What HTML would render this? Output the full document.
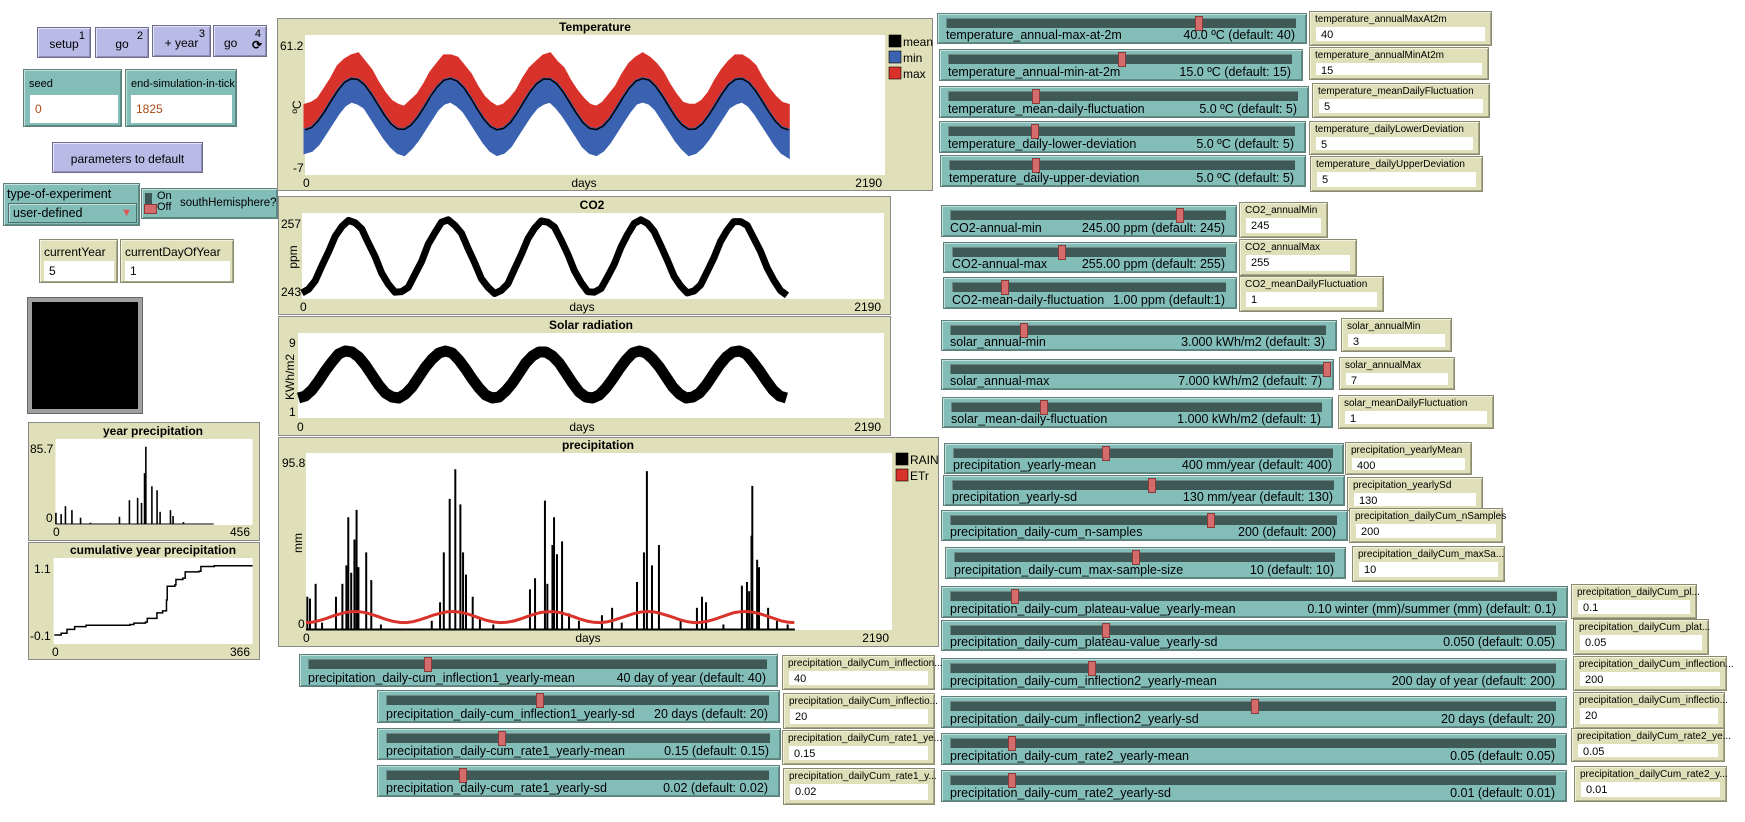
<!DOCTYPE html>
<html><head><meta charset="utf-8">
<style>
body{margin:0;width:1745px;height:822px;background:#fff;overflow:hidden;position:relative;font-family:"Liberation Sans",sans-serif;font-size:12px;color:#000}
.w{position:absolute;box-sizing:border-box}
.btn{background:#babae6;border:1px solid #6e6e8a;box-shadow:inset 1px 1px 0 #e4e4f8,inset -1px -1px 0 #8d8db5;text-align:center}
.btn .num{position:absolute;right:5px;top:2px;font-size:11px}
.btn .lb{position:absolute;left:0;right:0;bottom:6px;font-size:12px}
.teal{background:#83bdb8;border:1px solid #5f7f7b;box-shadow:inset 1px 1px 0 #c4e0dc,inset -1px -1px 0 #5d8c87}
.beige{background:#dfdfb9;border:1px solid #8a8a70;box-shadow:inset 1px 1px 0 #f2f2dc,inset -1px -1px 0 #a8a888}
.fld{position:absolute;background:#fff;font-size:12px;padding-left:5px;box-sizing:border-box}
.slider .trk{position:absolute;left:8px;right:10px;top:4px;height:10px;background:#3f5a56;border-top:1px solid #6f8784;border-left:1px solid #6f8784;box-sizing:border-box}
.slider .th{position:absolute;top:2px;width:8px;height:15px;background:#d56c6c;border:1px solid #8b3b3b;box-sizing:border-box}
.slider .sl{position:absolute;left:8px;bottom:1px;font-size:12.5px;white-space:nowrap}
.slider .sv{position:absolute;right:11px;bottom:1px;font-size:12.5px;white-space:nowrap}
.inb .il{position:absolute;left:5px;top:2px;font-size:10px;white-space:nowrap}
.inb .fld{left:6px;right:6px;top:15px;bottom:4px;font-size:11px;line-height:16px}
svg text{font-family:"Liberation Sans",sans-serif}
</style></head><body>

<div class="w btn" style="left:37px;top:27px;width:54px;height:31px"><span class="num">1</span><span class="lb">setup</span></div>
<div class="w btn" style="left:95px;top:27px;width:54px;height:31px"><span class="num">2</span><span class="lb">go</span></div>
<div class="w btn" style="left:152px;top:25px;width:59px;height:32px"><span class="num">3</span><span class="lb">+ year</span></div>
<div class="w btn" style="left:213px;top:25px;width:54px;height:32px"><span class="num">4</span><span class="lb" style="text-align:left;padding-left:10px">go <b style="position:absolute;right:4px;bottom:-2px;font-size:12px">&#x27F3;</b></span></div>

<div class="w teal" style="left:23px;top:69px;width:99px;height:58px"><span style="position:absolute;left:5px;top:8px;font-size:11px">seed</span><div class="fld" style="left:6px;top:25px;width:88px;height:28px;line-height:28px;color:#a84a16">0</div></div>
<div class="w teal" style="left:125px;top:69px;width:112px;height:58px"><span style="position:absolute;left:5px;top:8px;font-size:11px">end-simulation-in-tick</span><div class="fld" style="left:5px;top:25px;width:101px;height:28px;line-height:28px;color:#a84a16">1825</div></div>

<div class="w btn" style="left:52px;top:142px;width:151px;height:31px"><span class="lb">parameters to default</span></div>

<div class="w teal" style="left:3px;top:183px;width:137px;height:43px"><span style="position:absolute;left:3px;top:3px;font-size:12.5px">type-of-experiment</span><div style="position:absolute;left:4px;top:19px;width:129px;height:20px;border:1px solid #4f6f6b;box-shadow:inset 1px 1px 0 #c4e0dc;box-sizing:border-box;font-size:12.5px;line-height:18px;padding-left:4px">user-defined<span style="position:absolute;right:4px;top:0;color:#d55;font-size:11px">&#9660;</span></div></div>

<div class="w teal" style="left:141px;top:188px;width:137px;height:31px"><div style="position:absolute;left:3px;top:4px;width:7px;height:14px;background:#3f5a56"></div><div style="position:absolute;left:2px;top:15px;width:11px;height:8px;background:#d56c6c;border:1px solid #8b3b3b"></div><span style="position:absolute;left:15px;top:2px;font-size:11px;line-height:11px">On<br>Off</span><span style="position:absolute;left:38px;top:8px;font-size:11.5px;white-space:nowrap">southHemisphere?</span></div>

<div class="w beige" style="left:39px;top:239px;width:79px;height:44px"><span style="position:absolute;left:4px;top:5px">currentYear</span><div class="fld" style="left:4px;top:21px;width:70px;height:20px;line-height:20px">5</div></div>
<div class="w beige" style="left:120px;top:239px;width:114px;height:44px"><span style="position:absolute;left:4px;top:5px">currentDayOfYear</span><div class="fld" style="left:4px;top:21px;width:105px;height:20px;line-height:20px">1</div></div>

<div class="w" style="left:28px;top:298px;width:114px;height:115px;background:#000;border:4px solid #a0a0a0;box-shadow:0 0 0 1px #666"></div>

<svg id="charts" width="1745" height="822" style="position:absolute;left:0;top:0"></svg>

<script>
// ---------- data ----------
const tempStep = 25;
const tempMean = [15,16.1,19.4,24.1,29.4,34.3,38.2,39.9,39.5,36.9,32.5,27.3,22.1,17.8,15.4,15.2,17.2,21.1,26.1,31.5,36.0,39.2,40.0,38.7,35.4,30.6,25.2,20.2,16.6,15.0,15.7,18.5,23.0,28.3,33.5,37.5,39.7,39.7,37.5,33.4,28.2,22.9,18.4,15.7,15.1,16.7,20.3,25.3,30.6,35.4,38.8,40.0,39.2,36.0,31.4,26.1,21.0,17.2,15.2,15.4,17.9,22.2,27.3,32.6,37.0,39.5,39.9,38.1,34.2,29.3,24.0,19.3,16.1,15.0];
const tempMax = [27,28,30,35,40,46,49,51,52,48,44,38,33,29,27,26,29,32,37,43,47,51,51,50,46,42,36,31,28,26,27,30,34,40,45,48,51,52,48,45,39,34,30,27,26,28,32,36,42,47,50,52,50,47,43,37,32,28,27,27,29,33,39,44,48,51,51,49,46,40,35,31,28,27];
const tempMin = [4,5,8,13,18,23,27,29,28,26,21,16,11,7,4,3,6,10,15,20,25,28,29,27,24,19,14,9,5,3,4,7,12,17,22,26,28,29,26,22,17,12,7,4,3,5,9,14,19,24,28,29,28,25,20,15,10,6,3,4,7,11,16,21,26,28,29,27,23,18,13,8,4,2];
const co2Vals = [244.0,244.6,246.0,248.4,250.7,253.2,254.8,255.8,255.4,254.4,252.1,249.9,247.2,245.4,244.1,244.2,244.9,247.0,249.1,251.9,253.8,255.5,255.9,255.0,253.7,251.2,248.9,246.3,244.9,243.9,244.4,245.5,247.9,250.2,252.8,254.5,255.7,255.5,254.7,252.6,250.3,247.6,245.7,244.2,244.1,244.7,246.6,248.7,251.4,253.5,255.3,255.9,255.3,254.0,251.7,249.3,246.7,245.1,244.0,244.3,245.3,247.5,249.7,252.4,254.2,255.6,255.6,255.0,252.9,250.8,248.1,246.1,244.4,243.6];
const solarVals = [2.8,3.0,3.6,4.5,5.5,6.4,7.2,7.5,7.4,6.9,6.1,5.1,4.1,3.3,2.9,2.8,3.2,3.9,4.9,5.9,6.7,7.3,7.5,7.3,6.6,5.7,4.7,3.8,3.1,2.8,2.9,3.5,4.3,5.3,6.3,7.0,7.4,7.4,7.0,6.3,5.3,4.3,3.4,2.9,2.8,3.1,3.8,4.7,5.7,6.6,7.3,7.5,7.3,6.7,5.9,4.9,3.9,3.2,2.8,2.9,3.3,4.1,5.1,6.1,6.9,7.4,7.5,7.2,6.4,5.5,4.5,3.6,3.0,2.8];
const etrVals = [4.0,4.3,5.1,6.2,7.5,8.6,9.6,10.0,9.9,9.3,8.2,7.0,5.7,4.7,4.1,4.0,4.5,5.5,6.7,8.0,9.0,9.8,10.0,9.7,8.9,7.7,6.4,5.2,4.4,4.0,4.2,4.8,5.9,7.2,8.4,9.4,9.9,9.9,9.4,8.4,7.2,5.9,4.8,4.2,4.0,4.4,5.3,6.5,7.7,8.9,9.7,10.0,9.8,9.0,7.9,6.7,5.4,4.5,4.0,4.1,4.7,5.7,7.0,8.2,9.4,9.9,10.0,9.5,8.6,7.4,6.2,5.0,4.3,4.0];
const rainDays = [5,15,36,60,112,136,151,158,169,181,189,196,225,244,280,470,501,515,537,558,577,587,598,623,650,700,837,856,893,902,921,927,938,957,983,1020,1106,1144,1180,1237,1263,1274,1293,1319,1400,1461,1480,1495,1560,1629,1648,1656,1665,1668,1686,1693,1727,1760,1800];
const rainVals = [18,17,25,4,18,25,35,61,31,49,65,34,42,27,3,5,15,42,71,87,68,42,30,18,6,3,22,28,70,25,46,61,41,48,9,5,8,12,4,26,42,86,35,46,6,12,18,15,3,24,26,21,51,78,38,34,12,5,3];
const rainEnd = 1827;
const yearPrecipDays = [1,13,23,38,58,81,148,171,190,199,206,209,223,235,242,266,272,296];
const yearPrecipVals = [12.4,11,19.8,15.4,7,1.4,8,26.4,29,23.4,56.4,85.7,41.8,37.4,13.5,15.4,8.8,2.2];
const yearPrecipEnd = 366;
const cumDays = [1.4,14,24.6,38.7,59.7,140.6,147.7,168.9,172.3,190,200.5,207.6,209,223,225,237.8,242,267.4,270.9,295.5,366];
const cumVals = [0.017,0.042,0.1,0.14,0.16,0.17,0.19,0.205,0.26,0.34,0.37,0.53,0.73,0.75,0.83,0.85,0.94,0.95,1.02,1.03,1.03];

// ---------- helpers ----------
const NS = 'http://www.w3.org/2000/svg';
const svg = document.getElementById('charts');
function lin(d0, d1, r0, r1) { return v => r0 + (v - d0) / (d1 - d0) * (r1 - r0); }
function S(tag, attrs, parent) {
  const e = document.createElementNS(NS, tag);
  for (const k in attrs) e.setAttribute(k, attrs[k]);
  (parent || svg).appendChild(e);
  return e;
}
function T(txt, x, y, opts, name) {
  const e = S('text', Object.assign({x: x, y: y, 'font-size': 12}, opts || {}));
  e.textContent = txt;
  
  
  return e;
}
function frame(x1, y1, x2, y2, name) {
  const r = S('rect', {x: x1 + .5, y: y1 + .5, width: x2 - x1, height: y2 - y1, fill: '#dfdfb9', stroke: '#8a8a8a'});
  
  
}
function area(x1, y1, x2, y2, name) {
  const r = S('rect', {x: x1, y: y1, width: x2 - x1, height: y2 - y1, fill: '#fff'});
  
  
}
function pts(xs, ys, fx, fy) { return xs.map((d, i) => fx(d).toFixed(1) + ',' + fy(ys[i]).toFixed(1)); }
const tDays = tempMean.map((v, i) => i * tempStep);

// ---------- Temperature ----------
frame(277, 18, 932, 190, 'temperature-plot');
area(305, 35, 885, 175, 'temperature-plot-area');
const tx = lin(0, 2190, 305, 885), ty = lin(-7, 61.2, 175, 35);
const redPts = pts(tDays, tempMax, tx, ty).concat(pts(tDays, tempMean, tx, ty).reverse());
const red = S('polygon', {points: redPts.join(' '), fill: '#d9322b', stroke: '#d9322b', 'stroke-width': 3});


const bluePts = pts(tDays, tempMean, tx, ty).concat(pts(tDays, tempMin, tx, ty).reverse());
const blue = S('polygon', {points: bluePts.join(' '), fill: '#3a62b0', stroke: '#3a62b0', 'stroke-width': 3});


const meanL = S('polyline', {points: pts(tDays, tempMean, tx, ty).join(' '), fill: 'none', stroke: '#000', 'stroke-width': 1.5});


T('Temperature', 595, 31, {'font-weight': 'bold', 'text-anchor': 'middle'}, 'temperature-title');
T('61.2', 280, 50, {}, 'temperature-y-max');
T('-7', 293, 172, {}, 'temperature-y-min');
T('ºC', 301, 107, {'text-anchor': 'middle', transform: 'rotate(-90 301 107)'}, 'temperature-y-title');
T('0', 303, 187, {}, 'temperature-x-min');
T('days', 584, 187, {'text-anchor': 'middle'}, 'temperature-x-title');
T('2190', 882, 187, {'text-anchor': 'end'}, 'temperature-x-max');
[['mean', '#000', 35], ['min', '#3a62b0', 51], ['max', '#d9322b', 67]].forEach(l => {
  const r = S('rect', {x: 889, y: l[2], width: 12, height: 12, fill: l[1], stroke: '#000', 'stroke-width': .6});
  
  
  T(l[0], 903, l[2] + 11, {}, 'legend-entry-' + l[0]);
});

// ---------- CO2 ----------
frame(278, 196, 890, 314, 'co2-plot');
area(302, 213, 884, 299, 'co2-plot-area');
const cx = lin(0, 2190, 302, 884), cy = lin(243, 257, 299, 213);
const co2L = S('polyline', {points: pts(tDays, co2Vals, cx, cy).join(' '), fill: 'none', stroke: '#000', 'stroke-width': 7, 'stroke-linejoin': 'round'});


T('CO2', 592, 209, {'font-weight': 'bold', 'text-anchor': 'middle'}, 'co2-title');
T('257', 281, 228, {}, 'co2-y-max');
T('243', 281, 296, {}, 'co2-y-min');
T('ppm', 297, 257, {'text-anchor': 'middle', transform: 'rotate(-90 297 257)'}, 'co2-y-title');
T('0', 300, 311, {}, 'co2-x-min');
T('days', 582, 311, {'text-anchor': 'middle'}, 'co2-x-title');
T('2190', 881, 311, {'text-anchor': 'end'}, 'co2-x-max');

// ---------- Solar ----------
frame(278, 316, 890, 435, 'solar-plot');
area(298, 333, 884, 418, 'solar-plot-area');
const sx = lin(0, 2190, 298.5, 884), sy = lin(1, 9, 416, 336);
const solL = S('polyline', {points: pts(tDays, solarVals, sx, sy).join(' '), fill: 'none', stroke: '#000', 'stroke-width': 11, 'stroke-linejoin': 'round'});


T('Solar radiation', 591, 329, {'font-weight': 'bold', 'text-anchor': 'middle'}, 'solar-title');
T('9', 289, 347, {}, 'solar-y-max');
T('1', 289, 416, {}, 'solar-y-min');
T('KWh/m2', 294, 377, {'text-anchor': 'middle', transform: 'rotate(-90 294 377)'}, 'solar-y-title');
T('0', 297, 431, {}, 'solar-x-min');
T('days', 582, 431, {'text-anchor': 'middle'}, 'solar-x-title');
T('2190', 881, 431, {'text-anchor': 'end'}, 'solar-x-max');

// ---------- Precipitation ----------
frame(278, 437, 938, 646, 'precipitation-plot');
area(306, 453, 892, 630, 'precipitation-plot-area');
const px = lin(0, 2190, 306, 892), py = lin(0, 95.8, 630, 453);
rainDays.forEach((d, i) => {
  const b = S('line', {x1: px(d), x2: px(d), y1: py(0), y2: py(rainVals[i]), stroke: '#000', 'stroke-width': 2});
  
  
});
const base = S('line', {x1: px(0), x2: px(rainEnd), y1: py(0) - .5, y2: py(0) - .5, stroke: '#000', 'stroke-width': 2});


const etrL = S('polyline', {points: pts(tDays, etrVals, px, py).join(' '), fill: 'none', stroke: '#d9322b', 'stroke-width': 3});


T('precipitation', 598, 449, {'font-weight': 'bold', 'text-anchor': 'middle'}, 'precipitation-title');
T('95.8', 282, 467, {}, 'precipitation-y-max');
T('0', 298, 628, {}, 'precipitation-y-min');
T('mm', 302, 543, {'text-anchor': 'middle', transform: 'rotate(-90 302 543)'}, 'precipitation-y-title');
T('0', 303, 642, {}, 'precipitation-x-min');
T('days', 588, 642, {'text-anchor': 'middle'}, 'precipitation-x-title');
T('2190', 889, 642, {'text-anchor': 'end'}, 'precipitation-x-max');
[['RAIN', '#000', 453], ['ETr', '#d9322b', 469]].forEach(l => {
  const r = S('rect', {x: 896, y: l[2], width: 12, height: 12, fill: l[1], stroke: '#000', 'stroke-width': .6});
  
  
  T(l[0], 910, l[2] + 11, {}, 'legend-entry-' + l[0].toLowerCase());
});

// ---------- Year precipitation ----------
frame(28, 422, 259, 540, 'year-precipitation-plot');
area(55.5, 439, 252.6, 525, 'year-precipitation-plot-area');
const yx = lin(0, 456, 55.5, 252.6), yy = lin(0, 85.7, 524, 446.7);
yearPrecipDays.forEach((d, i) => {
  const b = S('line', {x1: yx(d), x2: yx(d), y1: yy(0), y2: yy(yearPrecipVals[i]), stroke: '#000', 'stroke-width': 1.6});
  
  
});
const yb = S('line', {x1: yx(0), x2: yx(yearPrecipEnd), y1: yy(0), y2: yy(0), stroke: '#000', 'stroke-width': 1});


T('year precipitation', 153, 435, {'font-weight': 'bold', 'text-anchor': 'middle'}, 'year-precipitation-title');
T('85.7', 30, 453, {}, 'year-precip-y-max');
T('0', 46, 522, {}, 'year-precip-y-min');
T('0', 53, 536, {}, 'year-precip-x-min');
T('456', 250, 536, {'text-anchor': 'end'}, 'year-precip-x-max');

// ---------- Cumulative ----------
frame(28, 542, 259, 659, 'cumulative-precipitation-plot');
area(53.6, 558, 252.6, 644, 'cumulative-plot-area');
const qx = lin(0, 366, 53.6, 252.6), qy = lin(-0.1, 1.1, 643, 561);
let dstr = 'M' + qx(cumDays[0]) + ',' + qy(cumVals[0]);
cumDays.forEach((d, i) => { if (i > 0) dstr += ' H' + qx(d) + ' V' + qy(cumVals[i]); });
const cl = S('path', {d: dstr, fill: 'none', stroke: '#000', 'stroke-width': 1.5});


T('cumulative year precipitation', 153, 554, {'font-weight': 'bold', 'text-anchor': 'middle'}, 'cumulative-title');
T('1.1', 34, 573, {}, 'cumulative-y-max');
T('-0.1', 30, 640, {}, 'cumulative-y-min');
T('0', 52, 656, {}, 'cumulative-x-min');
T('366', 250, 656, {'text-anchor': 'end'}, 'cumulative-x-max');

// ---------- sliders ----------
const sliders = [
 [937,13,1307,44,1198,'temperature_annual-max-at-2m','40.0 ºC  (default: 40)'],
 [939,49,1303,81,1121,'temperature_annual-min-at-2m','15.0 ºC  (default: 15)'],
 [939,86,1309,118,1035,'temperature_mean-daily-fluctuation','5.0 ºC  (default: 5)'],
 [939,121,1306,153,1034,'temperature_daily-lower-deviation','5.0 ºC  (default: 5)'],
 [940,155,1306,187,1035,'temperature_daily-upper-deviation','5.0 ºC  (default: 5)'],
 [941,205,1237,237,1179,'CO2-annual-min','245.00 ppm (default: 245)'],
 [943,242,1237,273,1061,'CO2-annual-max','255.00 ppm (default: 255)'],
 [943,277,1237,309,1004,'CO2-mean-daily-fluctuation','1.00 ppm (default:1)'],
 [941,320,1337,351,1023,'solar_annual-min','3.000 kWh/m2 (default: 3)'],
 [941,359,1334,390,1326,'solar_annual-max','7.000 kWh/m2 (default: 7)'],
 [942,397,1333,428,1043,'solar_mean-daily-fluctuation','1.000 kWh/m2 (default: 1)'],
 [944,443,1344,474,1105,'precipitation_yearly-mean','400 mm/year (default: 400)'],
 [943,475,1345,506,1151,'precipitation_yearly-sd','130 mm/year (default: 130)'],
 [941,510,1348,541,1210,'precipitation_daily-cum_n-samples','200 (default: 200)'],
 [945,547,1346,579,1135,'precipitation_daily-cum_max-sample-size','10 (default: 10)'],
 [941,586,1568,618,1014,'precipitation_daily-cum_plateau-value_yearly-mean','0.10 winter (mm)/summer (mm) (default: 0.1)'],
 [941,620,1567,651,1105,'precipitation_daily-cum_plateau-value_yearly-sd','0.050 (default: 0.05)'],
 [941,658,1567,690,1091,'precipitation_daily-cum_inflection2_yearly-mean','200 day of year (default: 200)'],
 [941,696,1567,728,1254,'precipitation_daily-cum_inflection2_yearly-sd','20 days (default: 20)'],
 [941,733,1567,765,1011,'precipitation_daily-cum_rate2_yearly-mean','0.05 (default: 0.05)'],
 [941,770,1567,802,1011,'precipitation_daily-cum_rate2_yearly-sd','0.01 (default: 0.01)'],
 [299,654,778,687,427,'precipitation_daily-cum_inflection1_yearly-mean','40 day of year (default: 40)'],
 [377,690,780,723,539,'precipitation_daily-cum_inflection1_yearly-sd','20 days (default: 20)'],
 [377,728,781,760,501,'precipitation_daily-cum_rate1_yearly-mean','0.15 (default: 0.15)'],
 [377,765,780,797,462,'precipitation_daily-cum_rate1_yearly-sd','0.02 (default: 0.02)']
];
sliders.forEach(s => {
  const nm = s[5].toLowerCase().replace(/_/g, '-') + '-slider';
  const el = document.createElement('div');
  el.className = 'w teal slider';
  el.style.cssText = 'left:' + s[0] + 'px;top:' + s[1] + 'px;width:' + (s[2] - s[0]) + 'px;height:' + (s[3] - s[1]) + 'px';
  
  
  const tr = document.createElement('div');
  tr.className = 'trk';
  
  
  el.appendChild(tr);
  const th = document.createElement('div');
  th.className = 'th';
  th.style.left = (s[4] - s[0] - 4) + 'px';
  
  
  el.appendChild(th);
  const lb = document.createElement('span');
  lb.className = 'sl';
  lb.textContent = s[5];
  
  
  el.appendChild(lb);
  const vl = document.createElement('span');
  vl.className = 'sv';
  vl.textContent = s[6];
  
  
  el.appendChild(vl);
  document.body.appendChild(el);
});

// ---------- input boxes ----------
const inputs = [
 [1309,11,1492,46,'temperature_annualMaxAt2m','40'],
 [1309,47,1489,80,'temperature_annualMinAt2m','15'],
 [1312,83,1490,118,'temperature_meanDailyFluctuation','5'],
 [1309,121,1480,155,'temperature_dailyLowerDeviation','5'],
 [1310,156,1483,192,'temperature_dailyUpperDeviation','5'],
 [1239,202,1328,238,'CO2_annualMin','245'],
 [1239,239,1357,276,'CO2_annualMax','255'],
 [1239,276,1384,312,'CO2_meanDailyFluctuation','1'],
 [1341,318,1452,352,'solar_annualMin','3'],
 [1339,357,1455,390,'solar_annualMax','7'],
 [1338,395,1494,429,'solar_meanDailyFluctuation','1'],
 [1345,442,1472,475,'precipitation_yearlyMean','400'],
 [1347,477,1483,511,'precipitation_yearlySd','130'],
 [1349,508,1503,543,'precipitation_dailyCum_nSamples','200'],
 [1352,546,1505,582,'precipitation_dailyCum_maxSa...','10'],
 [1571,584,1697,619,'precipitation_dailyCum_pl...','0.1'],
 [1573,619,1709,655,'precipitation_dailyCum_plat...','0.05'],
 [1573,656,1727,691,'precipitation_dailyCum_inflection...','200'],
 [1573,692,1725,729,'precipitation_dailyCum_inflectio...','20'],
 [1571,728,1725,762,'precipitation_dailyCum_rate2_ye...','0.05'],
 [1574,766,1727,802,'precipitation_dailyCum_rate2_y...','0.01'],
 [782,655,935,690,'precipitation_dailyCum_inflection...','40'],
 [783,693,935,729,'precipitation_dailyCum_inflectio...','20'],
 [782,730,935,765,'precipitation_dailyCum_rate1_ye...','0.15'],
 [783,768,935,805,'precipitation_dailyCum_rate1_y...','0.02']
];
inputs.forEach(s => {
  const nm = s[4].toLowerCase().replace(/[_.]+/g, '-').replace(/-$/, '') + '-input';
  const el = document.createElement('div');
  el.className = 'w beige inb';
  el.style.cssText = 'left:' + s[0] + 'px;top:' + s[1] + 'px;width:' + (s[2] - s[0]) + 'px;height:' + (s[3] - s[1]) + 'px';
  
  
  const lb = document.createElement('span');
  lb.className = 'il';
  lb.textContent = s[4];
  
  
  el.appendChild(lb);
  const f = document.createElement('div');
  f.className = 'fld';
  f.textContent = s[5];
  
  
  el.appendChild(f);
  document.body.appendChild(el);
});
</script>
</body></html>
